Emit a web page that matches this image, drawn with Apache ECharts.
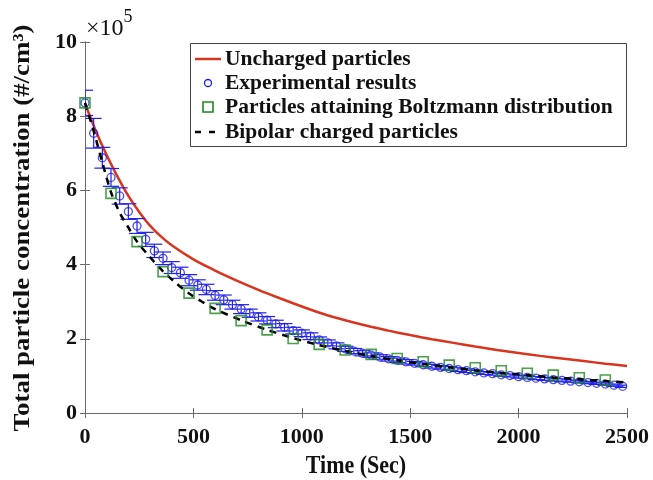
<!DOCTYPE html>
<html>
<head>
<meta charset="utf-8">
<script src="https://cdn.jsdelivr.net/npm/echarts@6/dist/echarts.min.js"></script>
<style>html,body{margin:0;padding:0;background:#fff;}#c{width:653px;height:480px;}</style>
</head>
<body>
<div id="c"></div>
<script>
// values in units of 1e5 #/cm^3
const expTime = [0,40,80,120,160,200,240,280,320,360,400,440,480,520,560,600,640,680,720,760,800,840,880,920,960,1000,1040,1080,1120,1160,1200,1240,1280,1320,1360,1400,1440,1480,1520,1560,1600,1640,1680,1720,1760,1800,1840,1880,1920,1960,2000,2040,2080,2120,2160,2200,2240,2280,2320,2360,2400,2440,2480];
const expConc = [8.36,7.54,6.88,6.35,5.85,5.43,5.04,4.68,4.37,4.17,3.92,3.78,3.58,3.45,3.33,3.17,3.05,2.92,2.80,2.69,2.59,2.50,2.40,2.31,2.22,2.15,2.07,1.97,1.89,1.81,1.73,1.67,1.61,1.56,1.51,1.46,1.42,1.38,1.34,1.30,1.26,1.23,1.20,1.17,1.14,1.11,1.08,1.06,1.03,1.01,0.98,0.96,0.94,0.92,0.90,0.88,0.86,0.84,0.82,0.80,0.78,0.75,0.72];
const expErr = [0.34,0.40,0.28,0.24,0.22,0.21,0.20,0.19,0.18,0.17,0.16,0.15,0.15,0.14,0.14,0.13,0.13,0.12,0.12,0.11,0.11,0.10,0.10,0.10,0.09,0.09,0.09,0.08,0.08,0.08,0.07,0.07,0.07,0.06,0.06,0.06,0.06,0.06,0.05,0.05,0.05,0.05,0.05,0.05,0.05,0.04,0.04,0.04,0.04,0.04,0.04,0.04,0.04,0.04,0.04,0.04,0.03,0.03,0.03,0.03,0.03,0.03,0.03];

const boltzTime = [0,120,240,360,480,600,720,840,960,1080,1200,1320,1440,1560,1680,1800,1920,2040,2160,2280,2400];
const boltzConc = [8.36,5.92,4.62,3.81,3.23,2.82,2.49,2.24,2.01,1.85,1.70,1.58,1.47,1.38,1.29,1.22,1.14,1.07,1.02,0.95,0.89];

const unchTime = [0,50,100,150,200,250,300,350,400,500,600,700,800,900,1000,1100,1200,1300,1400,1500,1600,1700,1800,1900,2000,2100,2200,2300,2400,2500];
const unchConc = [8.35,7.60,6.95,6.37,5.85,5.42,5.05,4.76,4.52,4.14,3.84,3.57,3.32,3.09,2.87,2.67,2.50,2.35,2.22,2.10,1.99,1.89,1.79,1.70,1.62,1.54,1.47,1.40,1.33,1.27];

const bipTime = [0,40,80,120,160,200,240,300,360,420,480,540,600,720,840,960,1080,1200,1320,1440,1560,1680,1800,1920,2040,2160,2280,2400,2500];
const bipConc = [8.36,7.60,6.75,5.95,5.40,5.00,4.62,4.20,3.82,3.50,3.22,3.00,2.80,2.50,2.24,2.02,1.83,1.67,1.54,1.42,1.32,1.23,1.15,1.08,1.02,0.96,0.91,0.86,0.82];

const legendLabels = ['Uncharged particles','Experimental results','Particles attaining Boltzmann distribution','Bipolar charged particles'];
const xTitle = 'Time (Sec)';
const yTitle = 'Total particle concentration (#/cm\u00B3)';

const RED = '#d8341e', BLUE = '#1f1fee', GREEN = '#1d8a1d', BLACK = '#000';
const SERIF = '"Liberation Serif","Times New Roman",serif';
const AX = '#6a6a6a';

const zip = (a, b) => a.map((v, i) => [v, b[i]]);
const expData = expTime.map((t, i) => [t, expConc[i], expErr[i]]);

const chart = echarts.init(document.getElementById('c'), null, {renderer: 'canvas'});

function axisCommon(showLabel, margin) {
  return {
    axisLine: {show: true, lineStyle: {color: AX, width: 1}},
    axisTick: {show: true, inside: true, length: 5, lineStyle: {color: AX}},
    splitLine: {show: false},
    axisLabel: {show: showLabel, margin: margin || 8, color: '#111', fontFamily: SERIF, fontWeight: 'bold', fontSize: 22,
      formatter: function (v) { return String(v); }}
  };
}

const option = {
  animation: false,
  backgroundColor: '#fff',
  grid: {left: 85, right: 26, top: 42, bottom: 67, containLabel: false},
  xAxis: [
    Object.assign({type: 'value', min: 0, max: 2500, interval: 500, position: 'bottom'}, axisCommon(true, 13)),
    Object.assign({type: 'value', min: 0, max: 2500, interval: 500, position: 'top'}, axisCommon(false))
  ],
  yAxis: [
    Object.assign({type: 'value', min: 0, max: 10, interval: 2, position: 'left'}, axisCommon(true, 8)),
    Object.assign({type: 'value', min: 0, max: 10, interval: 2, position: 'right'}, axisCommon(false))
  ],
  series: [
    {
      name: legendLabels[0], type: 'line', data: zip(unchTime, unchConc), smooth: 0.35,
      showSymbol: false, lineStyle: {color: RED, width: 2.5}, z: 2
    },
    {
      name: 'errbar', type: 'custom', data: expData, clip: true, z: 3,
      renderItem: function (params, api) {
        const x = api.value(0), y = api.value(1), e = api.value(2);
        const p1 = api.coord([x, y + e]), p2 = api.coord([x, y - e]);
        const hw = 8;
        const st = {stroke: BLUE, lineWidth: 1.2};
        return {type: 'group', children: [
          {type: 'line', shape: {x1: p1[0], y1: p1[1], x2: p2[0], y2: p2[1]}, style: st},
          {type: 'line', shape: {x1: p1[0] - hw, y1: p1[1], x2: p1[0] + hw, y2: p1[1]}, style: st},
          {type: 'line', shape: {x1: p2[0] - hw, y1: p2[1], x2: p2[0] + hw, y2: p2[1]}, style: st}
        ]};
      }
    },
    {
      name: legendLabels[1], type: 'scatter', data: zip(expTime, expConc), symbol: 'circle', symbolSize: 8,
      itemStyle: {color: 'rgba(0,0,0,0)', borderColor: BLUE, borderWidth: 1.3}, z: 4
    },
    {
      name: legendLabels[3], type: 'line', data: zip(bipTime, bipConc), smooth: 0.3, showSymbol: false,
      lineStyle: {color: BLACK, width: 2.5, type: [7, 6]}, z: 5
    },
    {
      name: legendLabels[2], type: 'scatter', data: zip(boltzTime, boltzConc), symbol: 'rect', symbolSize: 10,
      itemStyle: {color: 'rgba(0,0,0,0)', borderColor: GREEN, borderWidth: 1.6}, z: 6
    }
  ],
  graphic: [
    {type: 'text', left: 86, top: 8, style: {
      text: '{a|\u00D710}{b|5}', fill: '#111',
      rich: {a: {fontFamily: SERIF, fontSize: 24, verticalAlign: 'bottom', padding: [9, 0, 0, 0]}, b: {fontFamily: SERIF, fontSize: 18, verticalAlign: 'top'}}
    }},
    {type: 'text', x: 356, y: 467, scaleY: 1.12, style: {text: xTitle, font: 'bold 22px ' + SERIF, fill: '#111', align: 'center', verticalAlign: 'middle'}},
    {type: 'text', x: 23, y: 228, rotation: Math.PI / 2, scaleX: 1.17, style: {text: yTitle, font: 'bold 23px ' + SERIF, fill: '#111', align: 'center', verticalAlign: 'middle'}},
    {type: 'rect', shape: {x: 190.5, y: 43.5, width: 436, height: 103}, style: {fill: '#fff', stroke: '#444', lineWidth: 1}, z: 100},
    {type: 'line', shape: {x1: 195, y1: 59, x2: 221, y2: 59}, style: {stroke: RED, lineWidth: 2.5}, z: 101},
    {type: 'circle', shape: {cx: 208, cy: 83, r: 3.5}, style: {fill: 'none', stroke: BLUE, lineWidth: 1.3}, z: 101},
    {type: 'rect', shape: {x: 203, y: 102, width: 10, height: 10}, style: {fill: 'none', stroke: GREEN, lineWidth: 1.6}, z: 101},
    {type: 'line', shape: {x1: 195, y1: 132, x2: 223, y2: 132}, style: {stroke: BLACK, lineWidth: 2.5, lineDash: [6, 8]}, z: 101},
    {type: 'text', x: 225, y: 59, style: {text: legendLabels[0], font: 'bold 21.5px ' + SERIF, fill: '#111', verticalAlign: 'middle'}, z: 101},
    {type: 'text', x: 225, y: 83, style: {text: legendLabels[1], font: 'bold 21.5px ' + SERIF, fill: '#111', verticalAlign: 'middle'}, z: 101},
    {type: 'text', x: 225, y: 107, style: {text: legendLabels[2], font: 'bold 21.5px ' + SERIF, fill: '#111', verticalAlign: 'middle'}, z: 101},
    {type: 'text', x: 225, y: 132, style: {text: legendLabels[3], font: 'bold 21.5px ' + SERIF, fill: '#111', verticalAlign: 'middle'}, z: 101}
  ]
};
chart.setOption(option);
</script>
</body>
</html>
